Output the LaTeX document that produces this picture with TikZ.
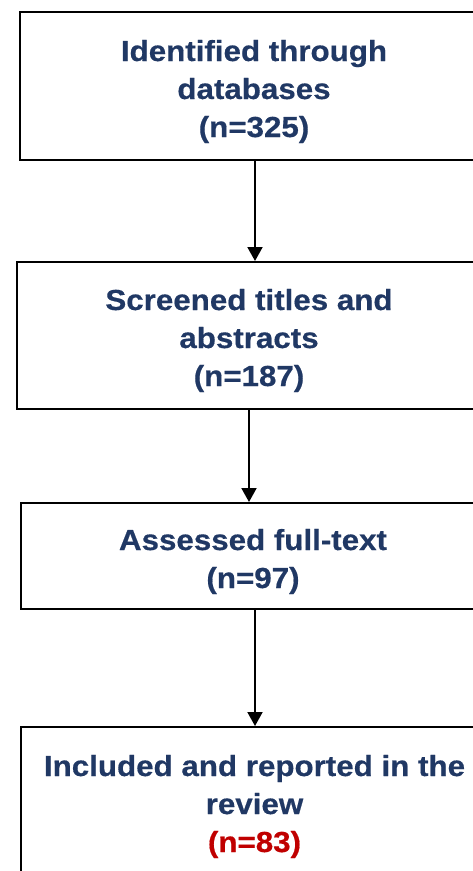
\documentclass[tikz,border=0pt]{standalone}
\usepackage{fontspec}
\setmainfont{Liberation Sans}[FakeStretch=1.08, BoldFeatures={FakeBold=0.5}]
\usetikzlibrary{arrows.meta}
\definecolor{navy}{HTML}{203864}
\definecolor{darkred}{HTML}{C00000}
\tikzset{
  stepbox/.style={draw=black, line width=2pt, rectangle, inner sep=0pt},
  steptext/.style={align=center, inner sep=0pt, text=navy,
    font=\fontsize{29pt}{38pt}\selectfont\bfseries},
  arr/.style={draw=black, line width=2pt, -{Triangle[width=15pt,length=14pt]}}
}
\begin{document}
\begin{tikzpicture}[x=1pt,y=-1pt]
\useasboundingbox (0,0) rectangle (473,871);
% boxes
\node[stepbox, minimum width=470pt, minimum height=148pt] (b1) at (255,86) {};
\node[stepbox, minimum width=464pt, minimum height=147pt] (b2) at (249,335.5) {};
\node[stepbox, minimum width=468pt, minimum height=106pt] (b3) at (255,556) {};
\node[stepbox, minimum width=467pt, minimum height=170pt] (b4) at (254.5,812) {};
% texts
\node[steptext] (t1) at (254,91.5) {Identified through\\databases\\(n=325)};
\node[steptext] (t2) at (249,340.5) {Screened titles and\\abstracts\\(n=187)};
\node[steptext] (t3) at (253,561.5) {Assessed full-text\\(n=97)};
\node[steptext] (t4) at (254.5,806.5) {Included and reported in the\\review\\\textcolor{darkred}{(n=83)}};
% arrows
\draw[arr] (b1.south) -- (b1.south |- b2.north);
\draw[arr] (b2.south) -- (b2.south |- b3.north);
\draw[arr] (b3.south) -- (b3.south |- b4.north);
\end{tikzpicture}
\end{document}
